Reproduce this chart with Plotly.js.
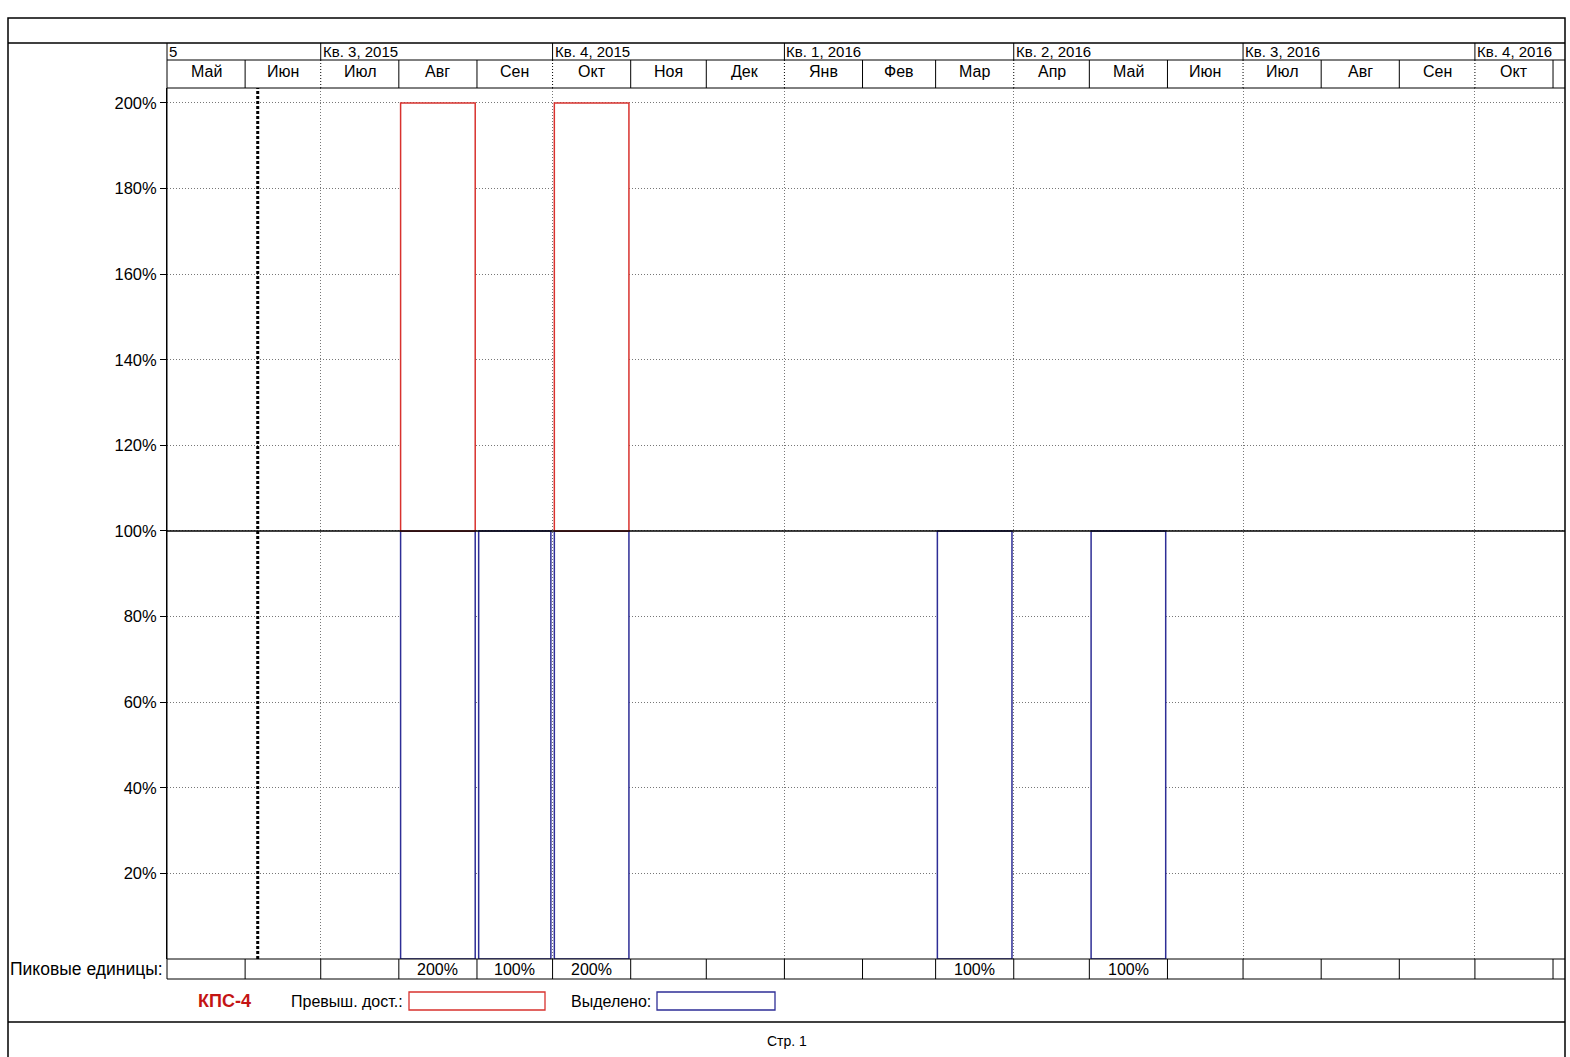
<!DOCTYPE html>
<html>
<head>
<meta charset="utf-8">
<script src="https://cdn.plot.ly/plotly-3.0.1.min.js"></script>
<style>html,body{margin:0;padding:0;background:#fff;}#chart{width:1570px;height:1057px;}</style>
</head>
<body>
<div id="chart"></div>
<script>
// ---- Data ----
const monthStarts = ['2015-05-01','2015-06-01','2015-07-01','2015-08-01','2015-09-01','2015-10-01','2015-11-01','2015-12-01',
  '2016-01-01','2016-02-01','2016-03-01','2016-04-01','2016-05-01','2016-06-01','2016-07-01','2016-08-01','2016-09-01','2016-10-01','2016-11-01'];
const monthLabels = ['Май','Июн','Июл','Авг','Сен','Окт','Ноя','Дек','Янв','Фев','Мар','Апр','Май','Июн','Июл','Авг','Сен','Окт'];
const quarterStarts = ['2015-05-01','2015-07-01','2015-10-01','2016-01-01','2016-04-01','2016-07-01','2016-10-01'];
const quarterLabels = ['5','Кв. 3, 2015','Кв. 4, 2015','Кв. 1, 2016','Кв. 2, 2016','Кв. 3, 2016','Кв. 4, 2016'];
const peakUnits = [null,null,null,200,100,200,null,null,null,null,100,null,100,null,null,null,null,null]; // %
const maxUnits = 100;
const yTicks = [20,40,60,80,100,120,140,160,180,200];
const statusDate = '2015-06-06';
const resourceName = 'КПС-4';

// ---- Geometry helpers (pixels -> paper) ----
const L=167, R=1565, T=88, B=959;
const px = x => (x-L)/(R-L);
const py = y => (B-y)/(B-T);
const ms = d => new Date(d+'T00:00:00Z').getTime();
const iso = t => new Date(t).toISOString().slice(0,19).replace('T',' ');

const BLUE='#2e2e96', RED='#d8322e', FONT="'Liberation Sans Narrow','Arial Narrow','Liberation Sans',Arial,sans-serif";
const GRID={color:'#777',width:1,dash:'1px,2px'};

// Bars derived from data
const bx=[], bw=[], by=[], rx=[], rw=[], ry=[];
peakUnits.forEach((v,i)=>{
  if(v==null) return;
  const s=ms(monthStarts[i]), e=ms(monthStarts[i+1]);
  const mid=iso((s+e)/2), w=(e-s)*0.955;
  bx.push(mid); bw.push(w); by.push(Math.min(v,maxUnits));
  if(v>maxUnits){ rx.push(mid); rw.push(w); ry.push(v-maxUnits); }
});

const traces=[
  {type:'bar', x:bx, y:by, base:0, width:bw, marker:{color:'#fff', line:{color:BLUE,width:1.5}}, hoverinfo:'skip', showlegend:false},
  {type:'bar', x:rx, y:ry, base:maxUnits, width:rw, marker:{color:'#fff', line:{color:RED,width:1.5}}, hoverinfo:'skip', showlegend:false}
];

const shapes=[], ann=[];
const line=(x0,y0,x1,y1,opt={})=>shapes.push(Object.assign({type:'line',xref:'paper',yref:'paper',x0:px(x0),y0:py(y0),x1:px(x1),y1:py(y1),line:{color:'#000',width:1}},opt));
const vline=(d,y0,y1,lineOpt)=>shapes.push({type:'line',xref:'x',yref:'paper',x0:d,x1:d,y0:py(y0),y1:py(y1),line:lineOpt||{color:'#000',width:1}});

// frame
shapes.push({type:'rect',xref:'paper',yref:'paper',x0:px(8),x1:px(1565),y0:py(1062),y1:py(18),line:{color:'#000',width:1.5},layer:'above'});
line(8,43,1565,43,{line:{color:'#000',width:1.5}});
line(167,60,1565,60);
line(167,88,1565,88);
line(167,43,167,979);
line(8,1022,1565,1022,{line:{color:'#000',width:1.5}});
// table
line(167,959,1565,959);
line(167,979,1565,979);

const isQ = d => ['01','04','07','10'].includes(d.slice(5,7));
monthStarts.forEach((d,i)=>{
  if(i>0){
    vline(d,60,88, isQ(d)?{color:'#000',width:1,dash:'1px,2px'}:{color:'#000',width:1});
    vline(d,959,979);
    if(isQ(d)) vline(d,43,60);
  }
});
// 100% line
shapes.push({type:'line',xref:'paper',yref:'y',x0:0,x1:1,y0:maxUnits,y1:maxUnits,line:{color:'#000',width:1.3},layer:'above'});
// status date line
shapes.push({type:'line',xref:'x',yref:'paper',x0:statusDate,x1:statusDate,y0:0,y1:1,line:{color:'#000',width:3,dash:'3px,2px'}});

// month labels
monthLabels.forEach((m,i)=>{
  const s=ms(monthStarts[i]), e=ms(monthStarts[i+1]);
  ann.push({xref:'x',yref:'paper',x:iso((s+e)/2),y:py(71),text:m,showarrow:false,font:{family:FONT,size:16,color:'#000'},xanchor:'center',yanchor:'middle'});
  if(peakUnits[i]!=null)
    ann.push({xref:'x',yref:'paper',x:iso((s+e)/2),y:py(969),text:peakUnits[i]+'%',showarrow:false,font:{family:FONT,size:16,color:'#000'},xanchor:'center',yanchor:'middle'});
});
quarterLabels.forEach((q,i)=>{
  ann.push({xref:'x',yref:'paper',x:quarterStarts[i],y:py(52),text:q,showarrow:false,font:{family:FONT,size:15,color:'#000'},xanchor:'left',yanchor:'middle',xshift:0});
});
ann.push({xref:'paper',yref:'paper',x:px(165),y:py(969),text:'Пиковые единицы:',showarrow:false,font:{family:FONT,size:17.5,color:'#000'},xanchor:'right',yanchor:'middle'});
// legend
ann.push({xref:'paper',yref:'paper',x:px(224),y:py(1001),text:'<b>'+resourceName+'</b>',showarrow:false,font:{family:FONT,size:18,color:'#c41414'},xanchor:'center',yanchor:'middle'});
ann.push({xref:'paper',yref:'paper',x:px(405),y:py(1001),text:'Превыш. дост.:',showarrow:false,font:{family:FONT,size:16,color:'#000'},xanchor:'right',yanchor:'middle'});
shapes.push({type:'rect',xref:'paper',yref:'paper',x0:px(409),x1:px(545),y0:py(1010),y1:py(992),line:{color:RED,width:1.3}});
ann.push({xref:'paper',yref:'paper',x:px(653),y:py(1001),text:'Выделено:',showarrow:false,font:{family:FONT,size:16,color:'#000'},xanchor:'right',yanchor:'middle'});
shapes.push({type:'rect',xref:'paper',yref:'paper',x0:px(657),x1:px(775),y0:py(1010),y1:py(992),line:{color:BLUE,width:1.3}});
ann.push({xref:'paper',yref:'paper',x:px(787),y:py(1041),text:'Стр. 1',showarrow:false,font:{family:FONT,size:14,color:'#000'},xanchor:'center',yanchor:'middle'});

const layout={
  width:1570,height:1057,
  margin:{l:L,r:1570-R,t:T,b:1057-B,pad:0},
  paper_bgcolor:'#fff',plot_bgcolor:'#fff',
  barmode:'overlay',bargap:0,
  showlegend:false,
  xaxis:{type:'date',range:['2015-05-01','2016-11-05 18:00'],tickmode:'array',tickvals:quarterStarts.slice(1),
    showticklabels:false,ticks:'',showgrid:true,gridcolor:GRID.color,gridwidth:1,griddash:GRID.dash,zeroline:false,showline:false,fixedrange:true},
  yaxis:{range:[0,203.5],tickmode:'array',tickvals:yTicks,ticktext:yTicks.map(v=>v+'%'),ticks:'outside',ticklen:6,tickcolor:'#000',
    showline:true,linecolor:'#000',linewidth:1,showgrid:true,gridcolor:GRID.color,gridwidth:1,griddash:GRID.dash,zeroline:false,
    tickfont:{family:FONT,size:16.5,color:'#000'},fixedrange:true},
  shapes:shapes,annotations:ann
};
Plotly.newPlot('chart',traces,layout,{displayModeBar:false,staticPlot:true});
</script>
</body>
</html>
